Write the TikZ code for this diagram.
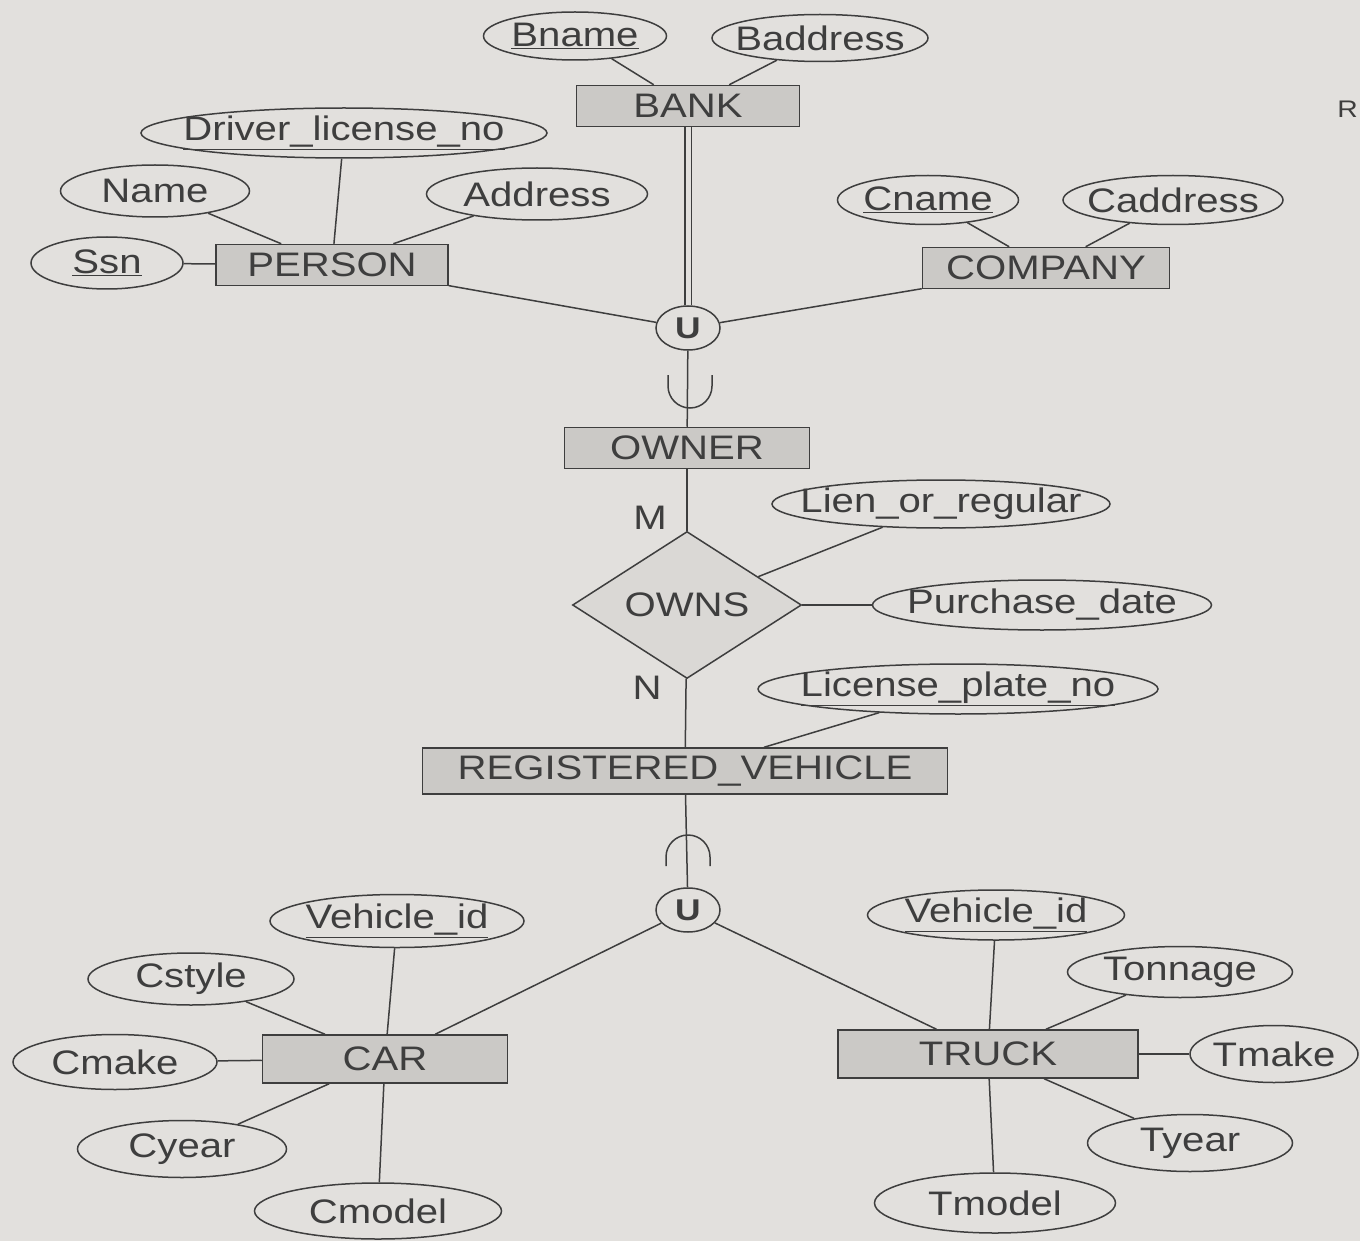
\documentclass[tikz,border=0pt]{standalone}
\usepackage{fontspec}
\setmainfont[FakeStretch=1.18]{Liberation Sans}
\usepackage{tikz}
\usetikzlibrary{shapes.geometric}
\definecolor{paper}{RGB}{226,224,221}
\definecolor{boxfill}{RGB}{203,201,198}
\definecolor{relfill}{RGB}{218,216,213}
\definecolor{ink}{RGB}{62,62,62}
\newcommand{\attlabel}[1]{\makebox[0pt]{#1}}
\tikzset{
  entity/.style={draw=ink, fill=boxfill, line width=1.5pt, minimum height=41pt, inner sep=0pt},
  attr/.style={draw=ink, ellipse, line width=1.5pt, inner sep=0pt},
  rel/.style={draw=ink, fill=relfill, diamond, shape aspect=1.5, line width=1.5pt, inner sep=0pt},
  uni/.style={draw=ink, ellipse, line width=1.5pt, inner sep=0pt, minimum width=64pt, minimum height=44pt, font=\fontsize{30}{32}\selectfont\bfseries},
  link/.style={draw=ink, line width=1.5pt},
  card/.style={text=ink}
}

\begin{document}
\begin{tikzpicture}[x=1pt, y=-1pt, text=ink, font=\fontsize{34}{40}\selectfont]
\fill[paper] (0,0) rectangle (1360,1241);
\useasboundingbox (0,0) rectangle (1360,1241);

\node[entity, minimum width=223pt] (bank) at (688,106) {BANK};
\node[attr, minimum width=183pt, minimum height=48pt] (bname) at (575,36) {\attlabel{\underline{Bname}}};
\node[attr, minimum width=216pt, minimum height=47pt] (baddress) at (820,38) {\attlabel{Baddress}};

\node[entity, minimum width=232pt] (person) at (332,265) {PERSON};
\node[attr, minimum width=406pt, minimum height=50pt] (dlno) at (344,133) {\attlabel{\underline{Driver\_license\_no}}};
\node[attr, minimum width=189pt, minimum height=52pt] (name) at (155,191) {\attlabel{Name}};
\node[attr, minimum width=221pt, minimum height=52pt] (address) at (537,194) {\attlabel{Address}};
\node[attr, minimum width=152pt, minimum height=52pt] (ssn) at (107,263) {\attlabel{\underline{Ssn}}};

\node[entity, minimum width=247pt] (company) at (1046,268) {COMPANY};
\node[attr, minimum width=181pt, minimum height=49pt] (cname) at (928,200) {\attlabel{\underline{Cname}}};
\node[attr, minimum width=220pt, minimum height=49pt] (caddress) at (1173,200) {\attlabel{Caddress}};

\node[uni] (u1) at (688,328) {U};
\node[entity, minimum width=245pt] (owner) at (687,448) {OWNER};
\node[rel, minimum width=229pt, minimum height=147pt] (owns) at (687,605) {OWNS};
\node[card] (m) at (650,518) {M};
\node[card] (n) at (647,688) {N};
\node[attr, minimum width=338pt, minimum height=48pt] (lien) at (941,504) {\attlabel{Lien\_or\_regular}};
\node[attr, minimum width=339pt, minimum height=50pt] (pdate) at (1042,605) {\attlabel{Purchase\_date}};

\node[entity, minimum width=525pt, minimum height=46pt] (regv) at (685,771) {REGISTERED\_VEHICLE};
\node[attr, minimum width=400pt, minimum height=50pt] (lpno) at (958,689) {\attlabel{\underline{License\_plate\_no}}};
\node[uni] (u2) at (688,910) {U};

\node[entity, minimum width=245pt, minimum height=48pt] (car) at (385,1059) {CAR};
\node[attr, minimum width=254pt, minimum height=53pt] (cvid) at (397,921) {\attlabel{\underline{Vehicle\_id}}};
\node[attr, minimum width=206pt, minimum height=52pt] (cstyle) at (191,979) {\attlabel{Cstyle}};
\node[attr, minimum width=204pt, minimum height=55pt] (cmake) at (115,1062) {\attlabel{Cmake}};
\node[attr, minimum width=209pt, minimum height=57pt] (cyear) at (182,1149) {\attlabel{Cyear}};
\node[attr, minimum width=247pt, minimum height=56pt] (cmodel) at (378,1211) {\attlabel{Cmodel}};

\node[entity, minimum width=300pt, minimum height=48pt] (truck) at (988,1054) {TRUCK};
\node[attr, minimum width=257pt, minimum height=50pt] (tvid) at (996,915) {\attlabel{\underline{Vehicle\_id}}};
\node[attr, minimum width=225pt, minimum height=51pt] (tonnage) at (1180,972) {\attlabel{Tonnage}};
\node[attr, minimum width=168pt, minimum height=57pt] (tmake) at (1274,1054) {\attlabel{Tmake}};
\node[attr, minimum width=205pt, minimum height=57pt] (tyear) at (1190,1143) {\attlabel{Tyear}};
\node[attr, minimum width=241pt, minimum height=60pt] (tmodel) at (995,1203) {\attlabel{Tmodel}};

\node[anchor=base east, inner sep=1pt, font=\fontsize{24}{26}\selectfont] (edge) at (1359,118) {R};

\draw[link] (bname) -- (bank);
\draw[link] (baddress) -- (bank);
\draw[link, double=paper, double distance=5pt] (bank) -- (u1);
\draw[link] (name) -- (person);
\draw[link] (dlno) -- (person);
\draw[link] (address) -- (person);
\draw[link] (ssn) -- (person);
\draw[link] (cname) -- (company);
\draw[link] (caddress) -- (company);
\draw[link] (person) -- (u1);
\draw[link] (company) -- (u1);
\draw[link] (u1) -- (owner);
\coordinate (cupL) at (668,375);
\coordinate (cupR) at (712,375);
\draw[link] (cupL) -- ++(0,11) arc[start angle=180, end angle=360, radius=22pt] -- (cupR);
\draw[link] (owner) -- (owns);
\draw[link] (lien) -- (owns);
\draw[link] (pdate) -- (owns);
\draw[link] (owns) -- (regv);
\draw[link] (lpno) -- (regv);
\draw[link] (regv) -- (u2);
\coordinate (capL) at (666,866);
\coordinate (capR) at (710,866);
\draw[link] (capL) -- ++(0,-9) arc[start angle=180, end angle=0, radius=22pt] -- (capR);
\draw[link] (u2) -- (car);
\draw[link] (u2) -- (truck);
\draw[link] (cvid) -- (car);
\draw[link] (cstyle) -- (car);
\draw[link] (cmake) -- (car);
\draw[link] (cyear) -- (car);
\draw[link] (cmodel) -- (car);
\draw[link] (tvid) -- (truck);
\draw[link] (tonnage) -- (truck);
\draw[link] (tmake) -- (truck);
\draw[link] (tyear) -- (truck);
\draw[link] (tmodel) -- (truck);
\end{tikzpicture}
\end{document}
